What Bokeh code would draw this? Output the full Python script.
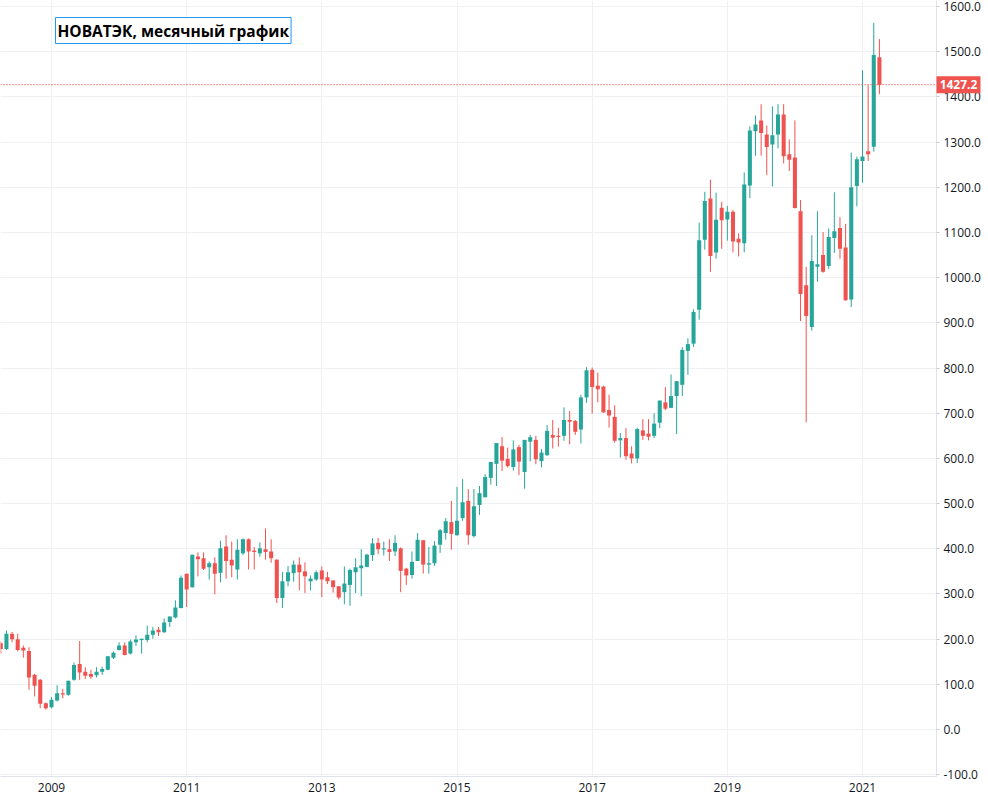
import numpy as np
import pandas as pd
from bokeh.plotting import figure
from bokeh.models import ColumnDataSource, FixedTicker, Span, Label, NumeralTickFormatter
from bokeh.core.properties import value
from bokeh.embed import file_html
from bokeh.resources import INLINE

# ---------------- data (monthly candles, NOVATEK, from April 2008) ----------------
start_month = "2008-04"
opens = [191, 178, 212, 200, 181, 174, 121, 110, 58, 49, 64, 80, 77, 110, 145, 128, 123, 120, 128, 132,
         159, 176, 186, 168, 193, 198, 198, 210, 221, 215, 238, 248, 269, 345, 315, 383, 379, 359, 368, 347,
         405, 376, 354, 390, 421, 396, 390, 399, 394, 376, 291, 328, 346, 365, 350, 328, 332, 352, 337, 330,
         317, 304, 320, 348, 357, 360, 386, 413, 400, 399, 394, 401, 356, 342, 373, 419, 365, 368, 409, 435,
         459, 430, 468, 506, 428, 497, 514, 557, 588, 627, 599, 581, 625, 570, 637, 641, 594, 607, 652, 650,
         650, 685, 683, 664, 735, 796, 761, 759, 707, 692, 640, 645, 611, 600, 662, 655, 650, 679, 724, 712,
         738, 763, 838, 854, 929, 1084, 1175, 1056, 1155, 1129, 1146, 1086, 1076, 1204, 1324, 1348, 1317, 1295, 1317, 1361,
         1273, 1266, 1147, 983, 891, 1024, 1050, 1026, 1088, 1110, 1067, 952, 1203, 1258, 1280, 1290, 1488]
highs = [195, 219, 216, 212, 186, 182, 123, 112, 60, 72, 98, 90, 108, 148, 196, 138, 132, 138, 139, 162,
         173, 193, 193, 199, 208, 201, 230, 227, 227, 246, 250, 286, 341, 345, 387, 392, 392, 372, 381, 418,
         430, 416, 421, 423, 423, 404, 414, 445, 421, 376, 349, 362, 374, 381, 370, 341, 352, 361, 349, 330,
         317, 361, 356, 379, 399, 389, 423, 424, 416, 421, 430, 403, 358, 394, 435, 419, 404, 417, 444, 468,
         506, 537, 554, 532, 532, 539, 565, 592, 634, 647, 624, 640, 630, 641, 652, 650, 621, 674, 685, 668,
         713, 705, 685, 741, 802, 801, 790, 761, 741, 718, 656, 667, 627, 668, 687, 687, 700, 728, 758, 786,
         771, 846, 866, 930, 1122, 1190, 1217, 1188, 1168, 1159, 1150, 1098, 1233, 1335, 1359, 1384, 1337, 1379, 1384, 1384,
         1306, 1348, 1172, 1024, 1094, 1147, 1101, 1109, 1189, 1134, 1119, 1277, 1268, 1459, 1426, 1564, 1528]
lows = [168, 176, 193, 173, 159, 88, 73, 47, 44, 47, 62, 69, 75, 108, 110, 112, 112, 115, 121, 131,
        156, 175, 164, 166, 185, 168, 193, 201, 207, 214, 227, 246, 268, 271, 314, 339, 353, 332, 299, 326,
        334, 337, 332, 386, 354, 354, 382, 376, 369, 280, 269, 317, 327, 308, 302, 308, 329, 293, 322, 303,
        288, 277, 274, 302, 295, 359, 373, 388, 385, 373, 384, 304, 320, 334, 373, 345, 345, 362, 391, 420,
        398, 429, 462, 409, 425, 475, 514, 542, 539, 572, 580, 573, 563, 533, 593, 587, 580, 606, 622, 626,
        639, 631, 652, 633, 723, 699, 724, 701, 668, 635, 602, 597, 589, 590, 641, 640, 645, 667, 707, 712,
        654, 738, 785, 847, 907, 1062, 1013, 1042, 1064, 1082, 1056, 1047, 1056, 1176, 1270, 1270, 1227, 1202, 1286, 1253,
        1236, 1153, 904, 680, 883, 991, 1011, 1019, 1055, 1042, 949, 935, 1158, 1210, 1258, 1279, 1406]
closes = [178, 212, 200, 176, 175, 115, 97, 57, 47, 66, 80, 78, 108, 143, 126, 119, 117, 128, 134, 162,
          170, 186, 165, 195, 199, 201, 210, 219, 215, 237, 250, 270, 336, 310, 387, 377, 356, 368, 345, 401,
          373, 363, 398, 421, 394, 393, 401, 393, 379, 291, 328, 348, 365, 348, 339, 334, 348, 332, 328, 315,
          292, 323, 353, 359, 363, 387, 412, 399, 401, 393, 413, 351, 341, 371, 420, 365, 368, 407, 441, 461,
          433, 462, 503, 430, 494, 523, 559, 592, 634, 595, 583, 620, 593, 641, 647, 598, 613, 661, 646, 648,
          685, 681, 659, 735, 795, 758, 753, 702, 695, 639, 645, 605, 600, 665, 650, 648, 677, 728, 710, 738,
          771, 840, 853, 924, 1083, 1170, 1048, 1128, 1127, 1146, 1080, 1078, 1206, 1326, 1339, 1320, 1289, 1315, 1361, 1269,
          1261, 1154, 964, 915, 1037, 1030, 1013, 1090, 1103, 1064, 950, 1200, 1262, 1268, 1273, 1493, 1427.2]
last_price = 1427.2
price_ticks = list(range(-100, 1700, 100))
title_text = "НОВАТЭК, месячный график"

# ---------------- derived ----------------
months = pd.period_range(start_month, periods=len(opens), freq="M")
idx = np.arange(len(opens))
year_ticks = [int(i) for i, m in zip(idx, months) if m.month == 1 and m.year % 2 == 1]
year_labels = {i: str(months[i].year) for i in year_ticks}

UP, DOWN = "#26a69a", "#ef5350"
o = np.array(opens, float); c = np.array(closes, float)
h = np.array(highs, float); l = np.array(lows, float)
colors = [UP if cc >= oo else DOWN for oo, cc in zip(o, c)]
body_top = np.maximum(o, c)
body_bot = np.minimum(o, c)
body_bot = np.where(body_top - body_bot < 2.5, body_top - 2.5, body_bot)

src = ColumnDataSource(dict(x=idx, o=o, c=c, h=h, l=l, top=body_top, bot=body_bot, color=colors))

PX = 5.632          # pixels per month
X0 = -0.055         # month index at left edge
FW, FH = 936, 776
p = figure(frame_width=FW, frame_height=FH,
           x_range=(X0, X0 + FW / PX), y_range=(-104.0, 1613.5),
           y_axis_location="right", toolbar_location=None, output_backend="svg",
           min_border_left=0, min_border_top=0, min_border_right=44, min_border_bottom=21,
           background_fill_color="white", border_fill_color="white", outline_line_color=None)

p.segment(x0="x", y0="l", x1="x", y1="h", color="color", line_width=1, source=src)
p.vbar(x="x", top="top", bottom="bot", width=0.72, fill_color="color", line_color=None, source=src)

# axes
p.xaxis.ticker = FixedTicker(ticks=year_ticks)
p.xaxis.major_label_overrides = year_labels
p.yaxis.ticker = FixedTicker(ticks=price_ticks)
p.yaxis.formatter = NumeralTickFormatter(format="0.0")
for ax in (p.xaxis[0], p.yaxis[0]):
    ax.axis_line_color = "#e0e3eb"
    ax.major_tick_line_color = "#c8cbd3"
    ax.minor_tick_line_color = None
    ax.major_label_text_font = "Open Sans"
    ax.major_label_text_font_size = "12px"
    ax.major_label_text_color = "#131722"
p.xaxis.major_tick_out = 0
p.xaxis.major_tick_in = 0
p.xaxis.major_label_standoff = 6
p.yaxis.major_tick_out = 3
p.yaxis.major_tick_in = 0
p.yaxis.major_label_standoff = 4

p.xgrid.grid_line_color = "#eef0f4"
p.ygrid.grid_line_color = "#eef0f4"

# last price line and its tag on the price scale (unclipped overlay glyphs)
p.add_layout(Span(location=last_price, dimension="width", line_color=DOWN,
                  line_dash="1 2", line_width=1.2))
tag_x = X0 + 958 / PX
p.rect(x=[tag_x], y=[last_price], width=44, height=17, width_units="screen", height_units="screen",
       fill_color=DOWN, line_color=None, level="overlay")
p.text(x=[tag_x], y=[last_price], text=[f"{last_price:.1f}"], text_align="center", text_baseline="middle",
       text_color="white", text_font=value("Open Sans"), text_font_style="bold", text_font_size="12px",
       level="overlay")

# title box
p.add_layout(Label(x=9.71, y=1547, text=title_text,
                   text_font="Open Sans", text_font_size="15.5px", text_font_style="bold",
                   text_color="black", text_align="left", text_baseline="middle",
                   background_fill_color="white", border_line_color="#2196f3",
                   border_line_width=1, padding=2))

open("out.html", "w").write(file_html(p, INLINE))
